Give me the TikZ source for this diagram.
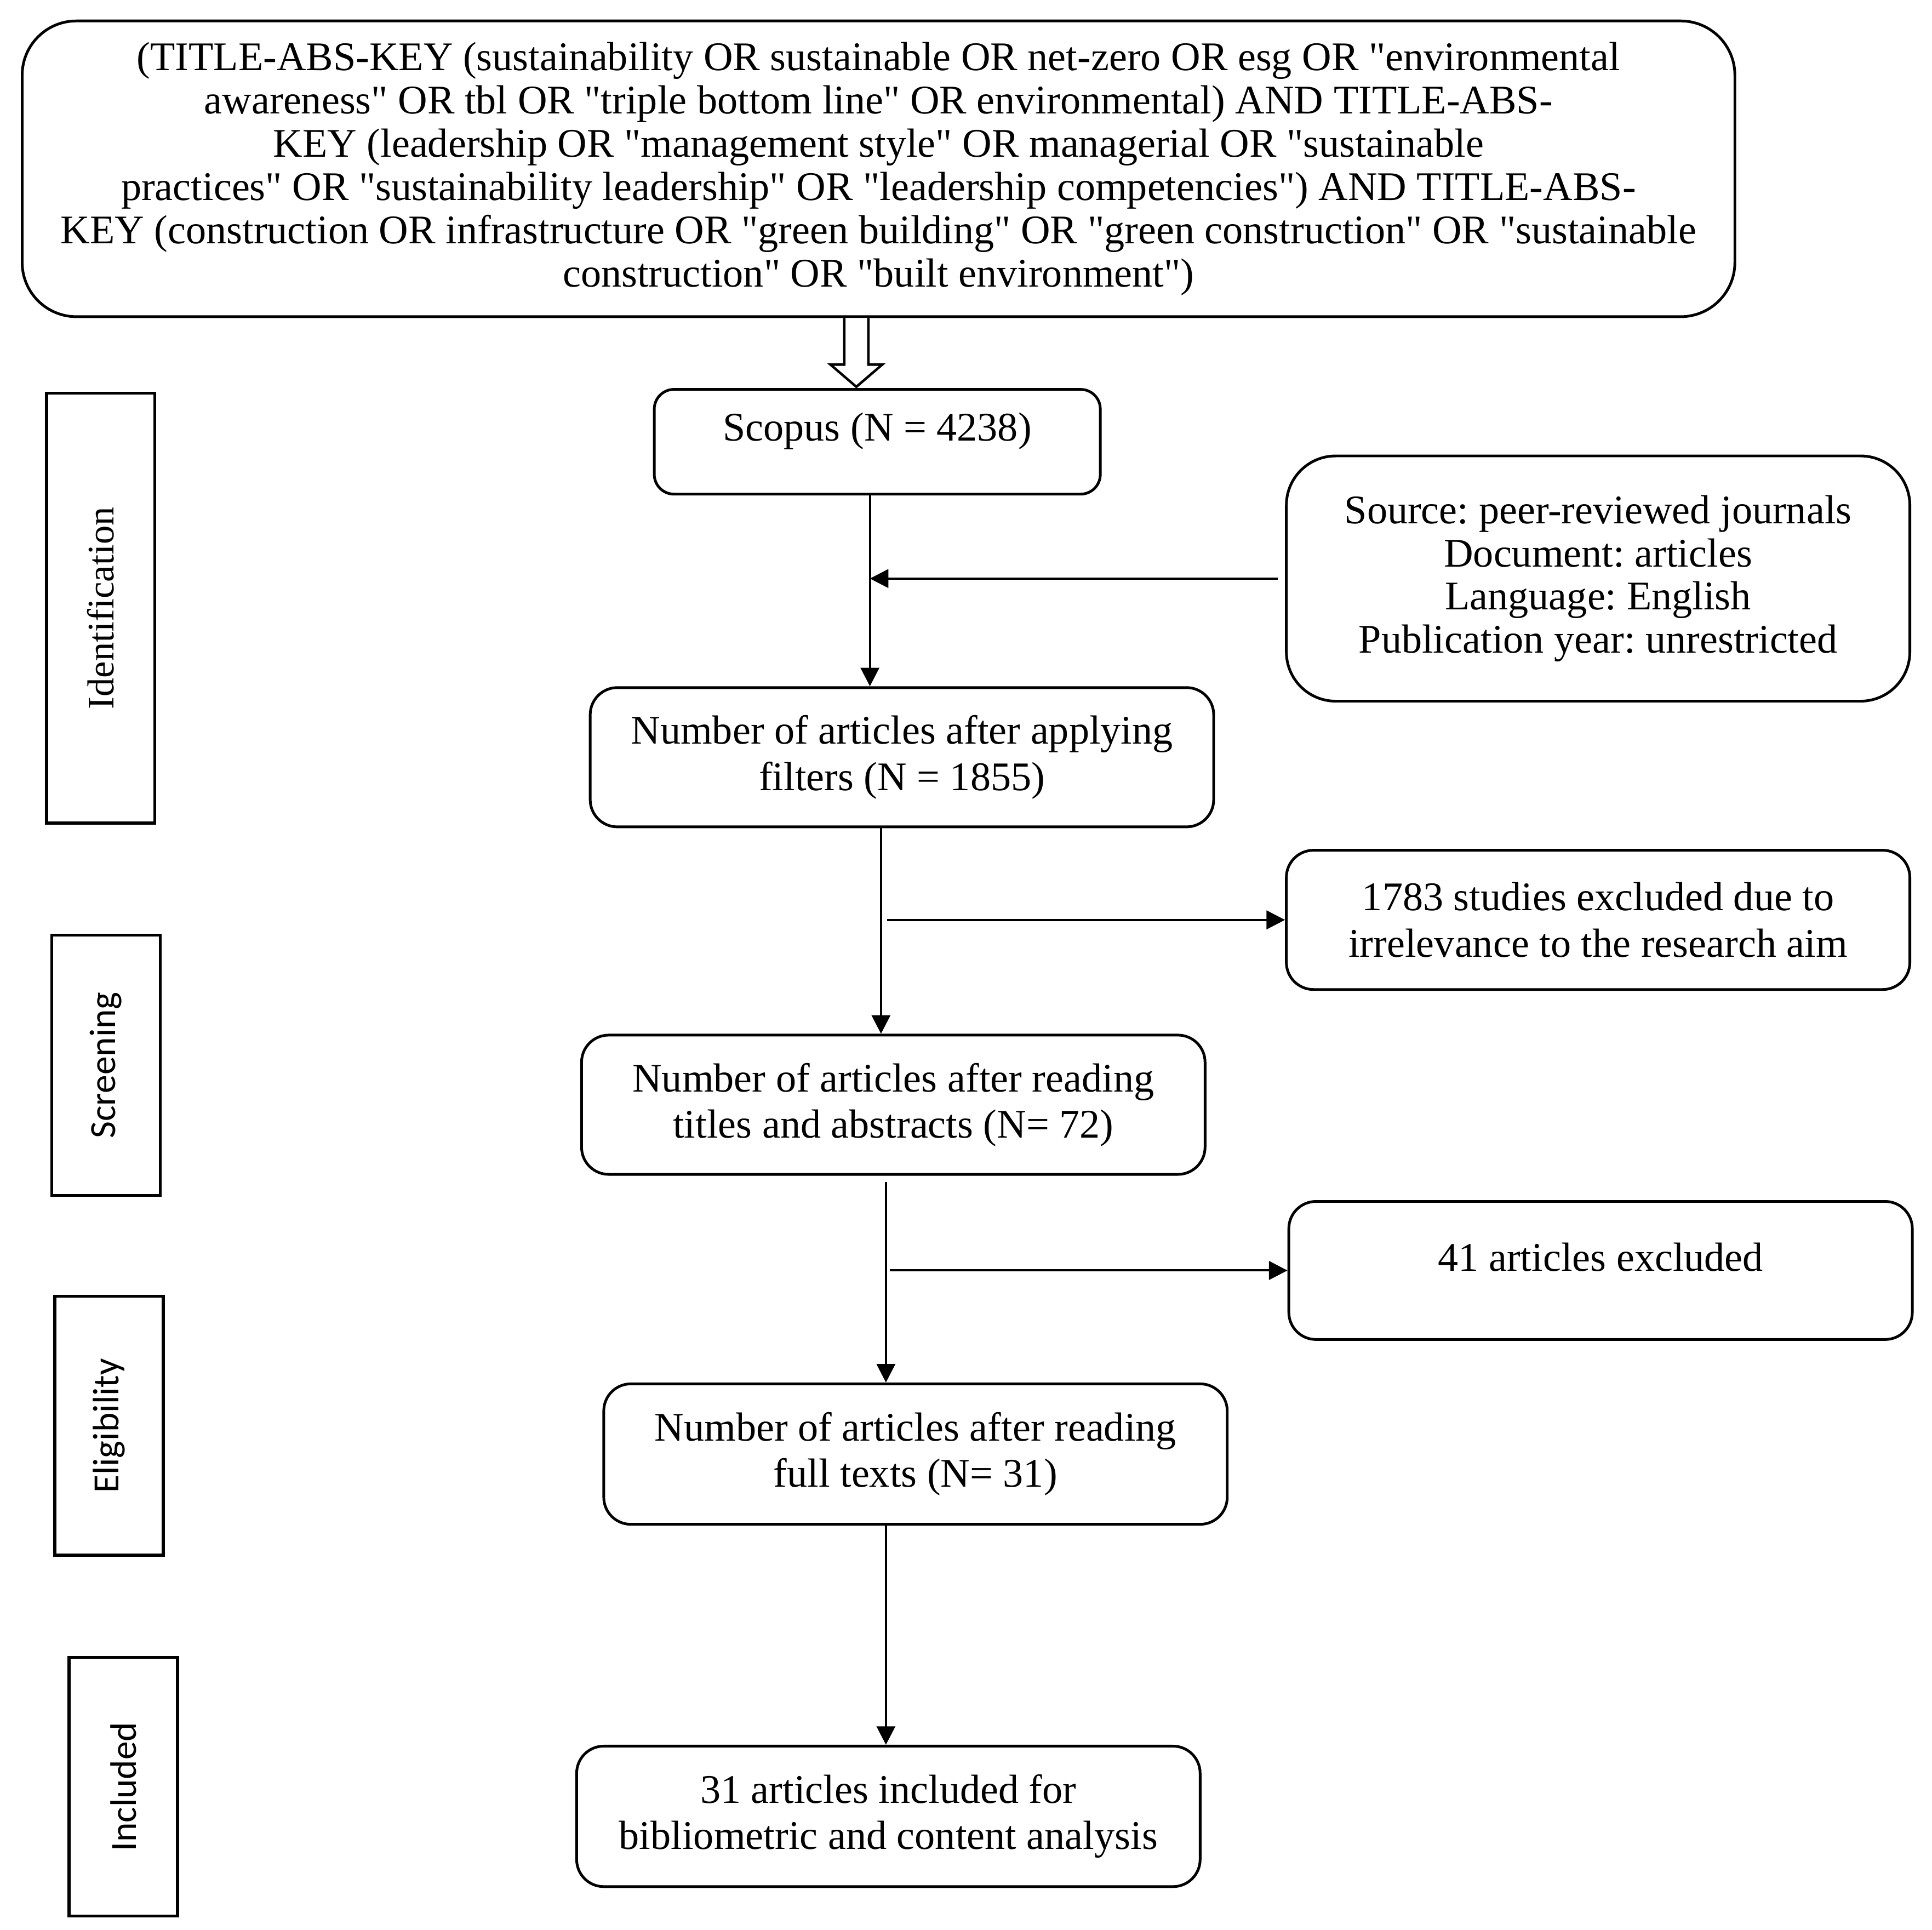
\documentclass[tikz,border=0pt]{standalone}
\usepackage{fontspec}
\setmainfont{Liberation Serif}[Ligatures=TeXOff]
\newfontfamily\sidesans{Carlito}
\usetikzlibrary{arrows.meta,calc}
\frenchspacing
\begin{document}
\begin{tikzpicture}[x=0.5pt,y=-0.5pt,
  box/.style={draw, line width=1.1pt, rounded corners=11pt, align=center, inner sep=0pt,
    font=\fontsize{16.5}{18.75}\selectfont},
  widebox/.style={box, minimum width=253pt, minimum height=56.5pt},
  sidebox/.style={draw, line width=1.2pt, inner sep=0pt, minimum width=44pt},
  arr/.style={line width=0.9pt, -{Triangle[length=7.5pt,width=7.5pt]}},
  hollow/.style={line width=1pt, fill=white, line join=miter}]
\useasboundingbox (0,0) rectangle (1568,1566.2);

% main query box
\node[box, rounded corners=22pt, minimum width=695pt, minimum height=120pt,
  font=\fontsize{16.5}{17.6}\selectfont] (top) at (713,137)
  {(TITLE-ABS-KEY (sustainability OR sustainable OR net-zero OR esg OR "environmental\\
   awareness" OR tbl OR "triple bottom line" OR environmental) AND TITLE-ABS-\\
   KEY (leadership OR "management style" OR managerial OR "sustainable\\
   practices" OR "sustainability leadership" OR "leadership competencies") AND TITLE-ABS-\\
   KEY (construction OR infrastructure OR "green building" OR "green construction" OR "sustainable\\
   construction" OR "built environment")};

% flow boxes
\node[box, rounded corners=8pt, minimum width=181pt, minimum height=42.5pt] (scopus) at (712,358.5)
  {\raisebox{0pt}[\height][\dimexpr\depth+8.5pt\relax]{Scopus (N = 4238)}};
\node[box, rounded corners=20pt, minimum width=253pt, minimum height=99.5pt,
  font=\fontsize{16.5}{17.5}\selectfont] (source) at (1297,469.5)
  {Source: peer-reviewed journals\\ Document: articles\\ Language: English\\ Publication year: unrestricted};
\node[widebox] (filters) at (732,614.5) {Number of articles after applying\\ filters (N = 1855)};
\node[widebox] (excl1) at (1297,746.5) {1783 studies excluded due to\\ irrelevance to the research aim};
\node[widebox] (screen) at (725,896.5) {Number of articles after reading\\ titles and abstracts (N= 72)};
\node[widebox, minimum height=56pt] (excl2) at (1299,1031)
  {\raisebox{0pt}[\height][\dimexpr\depth+11pt\relax]{41 articles excluded}};
\node[widebox, minimum height=57pt] (full) at (743,1180) {Number of articles after reading\\ full texts (N= 31)};
\node[widebox, minimum height=57pt] (incl) at (721,1474) {31 articles included for\\ bibliometric and content analysis};

% stage boxes
\node[sidebox, minimum height=174.5pt] (sIdent) at (81.75,493.5)
  {\rotatebox{90}{\fontsize{15.25}{16}\selectfont Identification}};
\node[sidebox, minimum height=105.5pt] (sScreen) at (86,864.5)
  {\rotatebox{90}{\sidesans\fontsize{15}{16}\selectfont Screening}};
\node[sidebox, minimum height=105pt] (sElig) at (88.5,1157)
  {\rotatebox{90}{\sidesans\fontsize{15}{16}\selectfont Eligibility}};
\node[sidebox, minimum height=105pt] (sIncl) at (100,1450)
  {\rotatebox{90}{\sidesans\fontsize{15}{16}\selectfont Included}};

% hollow block arrow from query to Scopus
\coordinate (xa) at (695,0);
\path (top.south -| xa) coordinate (dA) (scopus.north -| xa) coordinate (dB);
\draw[hollow] ($(dA)+(-9.75,0)$) -- ($(dB)+(-9.75,-19)$) -- ($(dB)+(-21,-19)$) -- ($(dB)+(0,-1)$)
  -- ($(dB)+(21,-19)$) -- ($(dB)+(9.75,-19)$) -- ($(dA)+(9.75,0)$);

% connectors
\coordinate (x1) at (706,0);
\draw[arr] (scopus.south -| x1) -- (filters.north -| x1);
\draw[arr] ($(source.west)+(-6,0)$) -- (source.west -| x1);

\coordinate (x2) at (715,0);
\coordinate (x2b) at (720,0);
\draw[arr] (filters.south -| x2) -- (screen.north -| x2);
\draw[arr] (excl1.west -| x2b) -- (excl1.west);

\coordinate (x3) at (719,0);
\coordinate (x3b) at (722,0);
\draw[arr] ($(screen.south -| x3)+(0,5)$) -- (full.north -| x3);
\draw[arr] (excl2.west -| x3b) -- (excl2.west);
\draw[arr] (full.south -| x3) -- (incl.north -| x3);
\end{tikzpicture}
\end{document}
